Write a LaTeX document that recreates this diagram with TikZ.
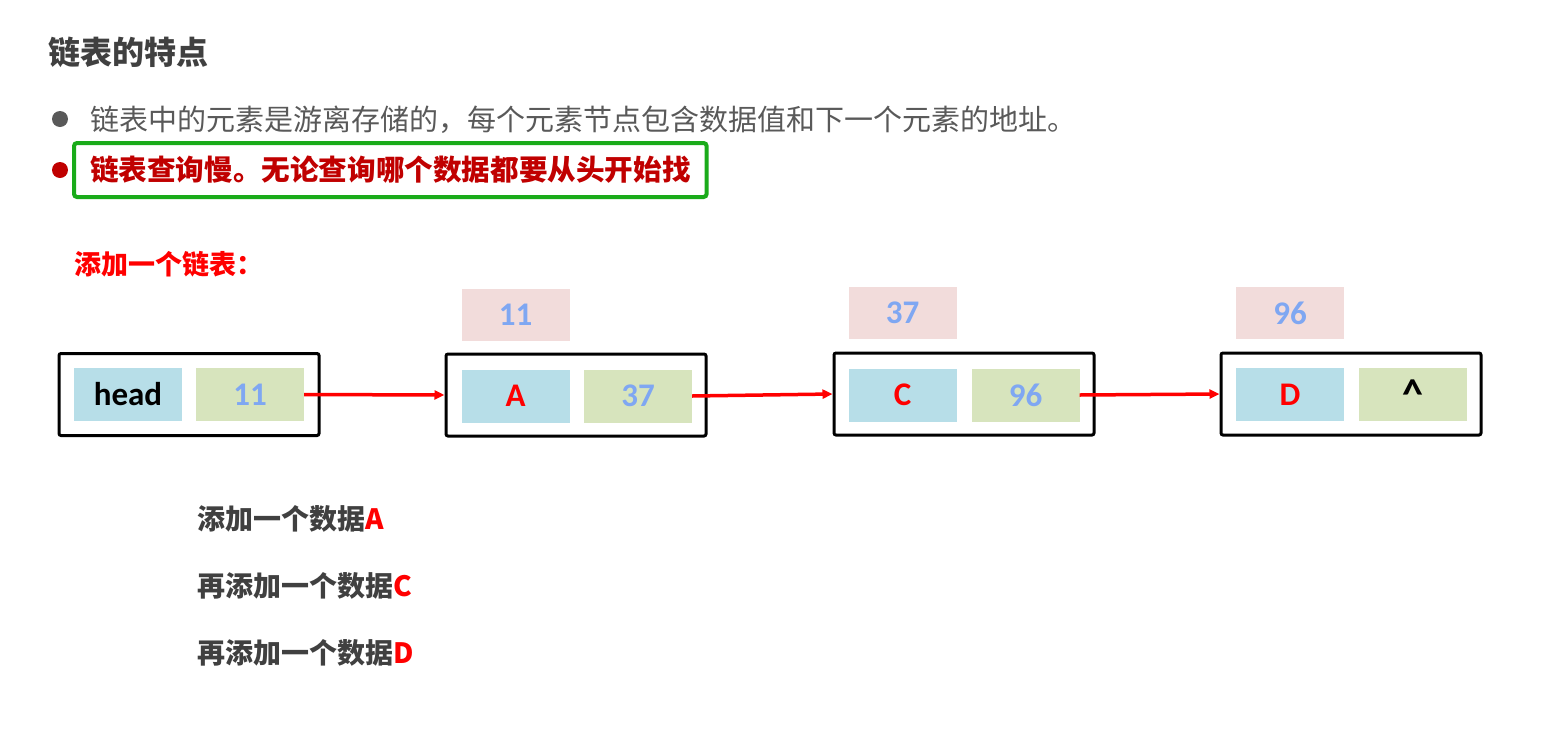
\documentclass[tikz,border=0pt]{standalone}
\usepackage{fontspec}
\setmainfont{Carlito}
\newfontfamily\cjk{Noto Sans CJK SC}
\usetikzlibrary{arrows.meta, positioning}
\definecolor{llTitle}{HTML}{404040}
\definecolor{llGray}{HTML}{595959}
\definecolor{llDarkRed}{HTML}{C00000}
\definecolor{llRed}{HTML}{FF0000}
\definecolor{llGreen}{HTML}{1AAB1A}
\definecolor{llCellB}{HTML}{B7DEE8}
\definecolor{llCellG}{HTML}{D7E4BD}
\definecolor{llPink}{HTML}{F2DCDB}
\definecolor{llAddr}{HTML}{7FA7F2}
\tikzset{
  >={Triangle[length=10pt, width=9pt]},
  txt/.style={anchor=west, inner sep=0pt, text=llTitle,
    font=\cjk\bfseries\fontsize{28}{32}\selectfont},
  bulletdot/.style={circle, inner sep=0pt, minimum size=16pt},
  listnode/.style={draw=black, line width=3pt, rounded corners=2pt,
    minimum width=260pt, minimum height=82pt, inner sep=0pt},
  llcell/.style={minimum width=108pt, minimum height=53pt, inner sep=0pt,
    font=\bfseries\fontsize{33}{36}\selectfont},
  datacell/.style={llcell, fill=llCellB, text=llRed},
  nextcell/.style={llcell, fill=llCellG, text=llAddr},
  addrcell/.style={llcell, fill=llPink, minimum height=52pt, text=llAddr},
  link/.style={->, line width=3.5pt, draw=llRed},
}
\begin{document}
\begin{tikzpicture}[x=1pt, y=-1pt]
  \useasboundingbox (0,0) rectangle (1543,745);

  % ---- Heading and bullets -----------------------------------------------
  \node[txt, font=\cjk\bfseries\fontsize{32}{36}\selectfont] (title) at (48,52) {链表的特点};
  \node[bulletdot, fill=llGray] (b1) at (60,119) {};
  \node[txt, text=llGray, font=\cjk\fontsize{29}{34}\selectfont] (p1) at (90,120)
    {链表中的元素是游离存储的，每个元素节点包含数据值和下一个元素的地址。};
  \node[bulletdot, fill=llDarkRed] (b2) at (60,170) {};
  \node[txt, anchor=west, draw=llGreen, line width=4pt, rounded corners=3pt,
    inner xsep=16pt, minimum height=54pt, text=llDarkRed,
    font=\cjk\bfseries\fontsize{28.6}{32}\selectfont] (p2) at (72,170)
    {链表查询慢。无论查询哪个数据都要从头开始找};
  \node[txt, text=llRed, font=\cjk\bfseries\fontsize{27}{32}\selectfont] (add) at (74,264)
    {添加一个链表：};

  % ---- List nodes --------------------------------------------------------
  \node[listnode] (n0) at (189,394.5) {};
  \node[datacell, text=black] (n0data) at (128,394.5) {head};
  \node[nextcell] (n0next) at (250,394.5) {11};

  \node[addrcell] (a1) at (515.5,315) {11};
  \node[listnode] (n1) at (576,395) {};
  \node[datacell] (n1data) at (515.5,396) {A};
  \node[nextcell] (n1next) at (638,396) {37};

  \node[addrcell] (a2) at (902.5,313) {37};
  \node[listnode] (n2) at (964,394) {};
  \node[datacell] (n2data) at (902.5,395) {C};
  \node[nextcell] (n2next) at (1025.5,395) {96};

  \node[addrcell] (a3) at (1290,313) {96};
  \node[listnode] (n3) at (1351,394) {};
  \node[datacell] (n3data) at (1290,394.5) {D};
  \node[nextcell, text=black] (n3next) at (1413,394.5) {\fontsize{42}{42}\selectfont\textasciicircum};

  % ---- Links -------------------------------------------------------------
  \draw[link] (n0next.east) -- (n1.west);
  \draw[link] (n1next.east) -- (n2.west);
  \draw[link] (n2next.east) -- (n3.west);

  % ---- Steps -------------------------------------------------------------
  \node[txt] (s1) at (197,519) {添加一个数据\textcolor{llRed}{A}};
  \node[txt] (s2) at (197,586) {再添加一个数据\textcolor{llRed}{C}};
  \node[txt] (s3) at (197,653) {再添加一个数据\textcolor{llRed}{D}};
\end{tikzpicture}
\end{document}
